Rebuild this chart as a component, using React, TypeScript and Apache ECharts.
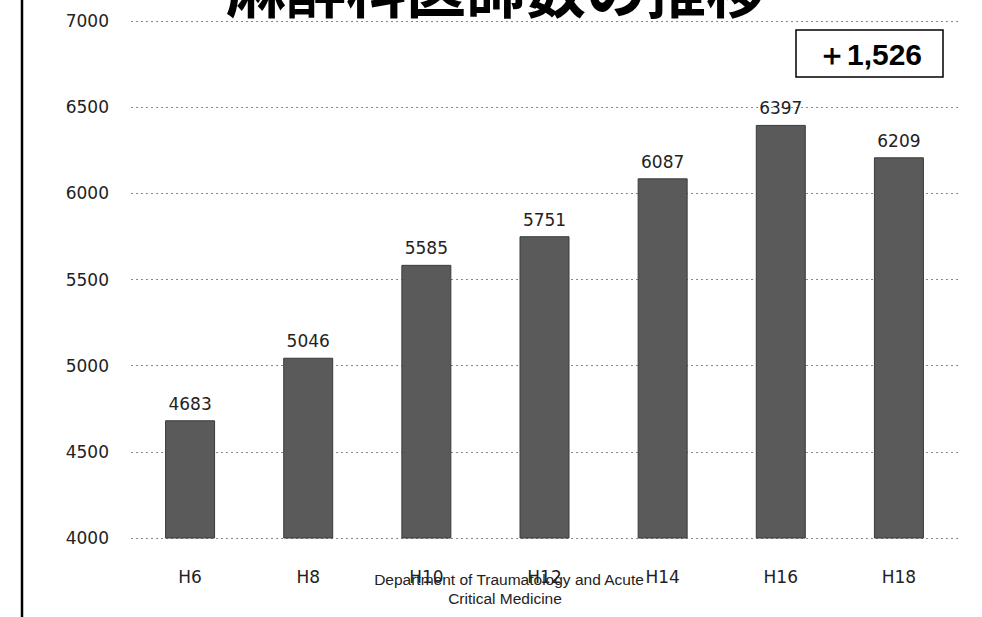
import React, { useEffect, useRef } from "react";
import * as echarts from "echarts";

const categories = ["H6", "H8", "H10", "H12", "H14", "H16", "H18"];
const doctorCounts = [4683, 5046, 5585, 5751, 6087, 6397, 6209];
const yTicks = { min: 4000, max: 7000, interval: 500 };
const titleText = "麻酔科医師数の推移";
const changeText = "＋1,526";
const footerLines = ["Department of Traumatology and Acute", "Critical Medicine"];

export default function App() {
  const ref = useRef<HTMLDivElement>(null);
  useEffect(() => {
    if (!ref.current) return;
    const chart = echarts.init(ref.current, undefined, { renderer: "svg" });
    chart.setOption({
      animation: false,
      backgroundColor: "#ffffff",
      grid: { left: 131, right: 24, top: 21, bottom: 79 },
      xAxis: {
        type: "category",
        data: categories,
        axisLine: { show: false },
        axisTick: { show: false },
        axisLabel: {
          margin: 30,
          fontSize: 17,
          color: "#222",
          fontFamily: "DejaVu Sans",
        },
      },
      yAxis: {
        type: "value",
        min: yTicks.min,
        max: yTicks.max,
        interval: yTicks.interval,
        axisLine: { show: false },
        axisTick: { show: false },
        axisLabel: {
          margin: 22,
          fontSize: 17,
          color: "#222",
          fontFamily: "DejaVu Sans",
          formatter: (v: number) => String(v),
        },
        splitLine: {
          lineStyle: { color: "#888", type: [2, 3], width: 1 },
        },
      },
      series: [
        {
          type: "bar",
          data: doctorCounts,
          barWidth: 50,
          itemStyle: {
            color: "#5a5a5a",
            borderColor: "#3a3a3a",
            borderWidth: 1,
          },
          label: {
            show: true,
            position: "top",
            distance: 8,
            fontSize: 17,
            color: "#222",
            fontFamily: "DejaVu Sans",
          },
        },
      ],
      graphic: [
        {
          type: "line",
          shape: { x1: 22, y1: 0, x2: 22, y2: 617 },
          style: { stroke: "#000", lineWidth: 2.5 },
        },
        {
          type: "text",
          x: 496,
          y: 16,
          style: {
            text: titleText,
            fontSize: 60,
            fontWeight: "bold",
            fill: "#000",
            align: "center",
            verticalAlign: "bottom",
            fontFamily: "Noto Sans CJK JP",
          },
        },
        {
          type: "rect",
          shape: { x: 796, y: 30, width: 147, height: 47 },
          style: { fill: "#fff", stroke: "#000", lineWidth: 1.5 },
        },
        {
          type: "text",
          x: 869.5,
          y: 54,
          style: {
            text: changeText,
            fontSize: 30,
            fontWeight: "bold",
            fill: "#000",
            align: "center",
            verticalAlign: "middle",
            fontFamily: "Liberation Sans",
          },
        },
        {
          type: "text",
          x: 509,
          y: 579,
          style: {
            text: footerLines[0],
            fontSize: 15.5,
            fill: "#222",
            align: "center",
            verticalAlign: "middle",
            fontFamily: "Liberation Sans",
          },
        },
        {
          type: "text",
          x: 505,
          y: 598,
          style: {
            text: footerLines[1],
            fontSize: 15.5,
            fill: "#222",
            align: "center",
            verticalAlign: "middle",
            fontFamily: "Liberation Sans",
          },
        },
      ],
    });
    return () => chart.dispose();
  }, []);
  return (
    <div
      ref={ref}
      style={{ position: "fixed", left: 0, top: 0, width: 982, height: 617 }}
    />
  );
}
